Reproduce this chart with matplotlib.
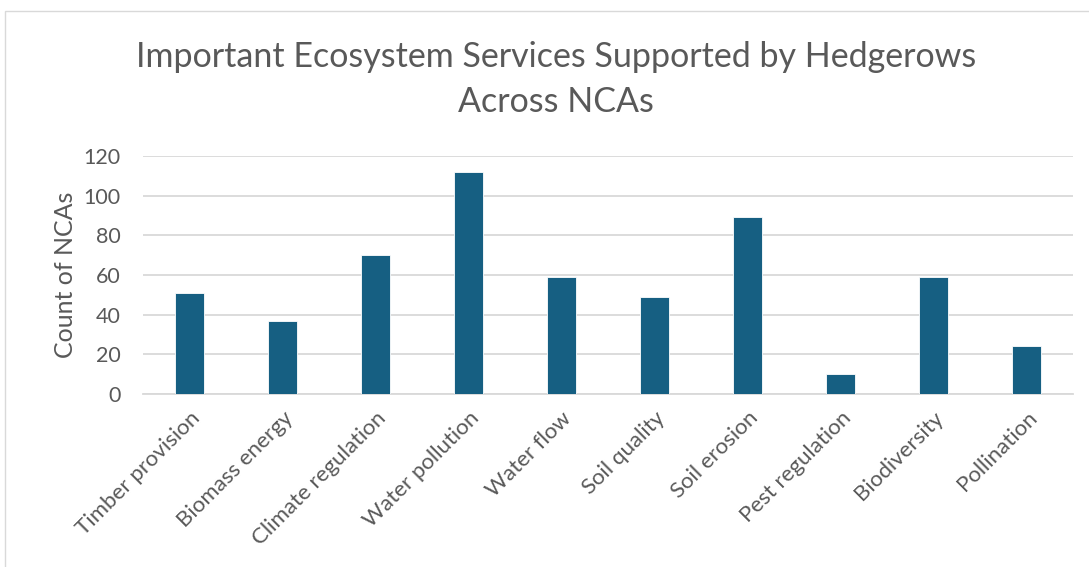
import matplotlib
matplotlib.use("Agg")
import matplotlib.pyplot as plt
from matplotlib.patches import Rectangle

categories = ["Timber provision", "Biomass energy", "Climate regulation", "Water pollution",
              "Water flow", "Soil quality", "Soil erosion", "Pest regulation",
              "Biodiversity", "Pollination"]
counts = [51, 37, 70, 112, 59, 49, 89, 10, 59, 24]
y_ticks = [0, 20, 40, 60, 80, 100, 120]

plt.rcParams["font.family"] = ["Lato", "DejaVu Sans"]
text_color = "#595959"

fig = plt.figure(figsize=(10.89, 5.67), dpi=100)
fig.patch.set_facecolor("white")
# light chart-area frame
fig.add_artist(Rectangle((5 / 1089, -0.01), 1.02, 1 - 11 / 567 + 0.01,
                         transform=fig.transFigure, fill=False,
                         edgecolor="#d9d9d9", linewidth=1.0))

ax = fig.add_axes([143 / 1089, 1 - 394 / 567, (1073 - 143) / 1089, (394 - 156) / 567])
x = list(range(len(categories)))
ax.bar(x, counts, width=0.31, color="#165f82", edgecolor="#ffffff", linewidth=0.6, zorder=3)

ax.set_xlim(-0.5, len(categories) - 0.5)
ax.set_ylim(0, 120)
ax.set_yticks(y_ticks)
ax.set_yticklabels([str(v) for v in y_ticks], fontsize=15.5, color=text_color)
ax.set_xticks(x)
ax.set_xticklabels(categories, rotation=45, ha="right", rotation_mode="anchor",
                   fontsize=16, color=text_color)
ax.tick_params(axis="y", length=0, pad=16)
ax.tick_params(axis="x", length=0, pad=10)
ax.yaxis.grid(True, color="#d9d9d9", linewidth=1.3, zorder=0)
for s in ["top", "right", "left"]:
    ax.spines[s].set_visible(False)
ax.spines["bottom"].set_color("#d9d9d9")
ax.spines["bottom"].set_linewidth(1.3)
ax.set_ylabel("Count of NCAs", fontsize=18, color=text_color, labelpad=5)

fig.text(556 / 1089, 1 - 57 / 567, "Important Ecosystem Services Supported by Hedgerows",
         ha="center", va="center", fontsize=24.5, color=text_color)
fig.text(556 / 1089, 1 - 102 / 567, "Across NCAs",
         ha="center", va="center", fontsize=24.5, color=text_color)

fig.savefig("out.png", dpi=100, facecolor="white")
